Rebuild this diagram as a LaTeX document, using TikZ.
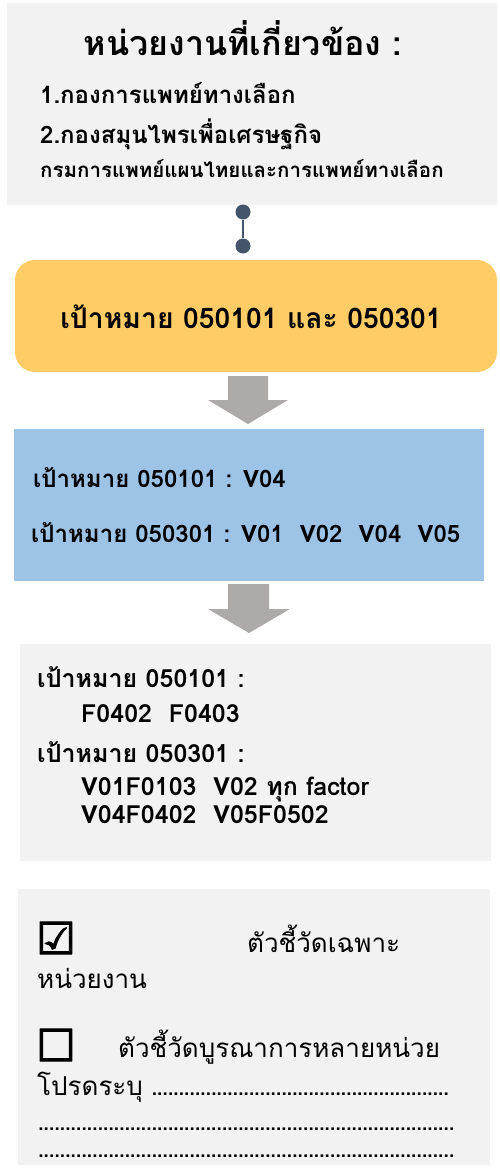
\documentclass[tikz,border=0pt]{standalone}
\usepackage{fontspec}
\setmainfont{DejaVu Sans}
\newfontfamily\thai[Script=Thai]{Loma}
\newfontfamily\sym[FakeBold=2.5]{DejaVu Sans}
\usetikzlibrary{calc}
\definecolor{boxgray}{HTML}{F2F2F2}
\definecolor{goldbox}{HTML}{FFCC66}
\definecolor{bluebox}{HTML}{9DC3E6}
\definecolor{arrowgray}{HTML}{AEAAAA}
\definecolor{slate}{HTML}{44546A}
\newcommand\dotrow[1]{\hbox to #1{\leaders\hbox to 5.4pt{\hss.\hss}\hfill}}
\tikzset{
  txt/.style={inner sep=0pt, anchor=base west, font=\thai\bfseries},
  ctxt/.style={inner sep=0pt, anchor=base, font=\thai\bfseries},
  rtxt/.style={inner sep=0pt, anchor=base west, font=\thai},
  dotend/.style={circle, fill=slate, inner sep=0pt, minimum size=15pt},
  blockarrow/.style={fill=arrowgray, draw=none}
}
\begin{document}
\begin{tikzpicture}[x=1pt,y=-1pt]
\useasboundingbox (0,0) rectangle (500,1168);
% box 1
\fill[boxgray] (7,3) rectangle (497,205);
\node[ctxt, font=\thai\bfseries\fontsize{34}{40}\selectfont] (title) at (243,55) {หน่วยงานที่เกี่ยวข้อง :};
\node[txt, font=\thai\bfseries\fontsize{24}{28}\selectfont] (l1) at (40,103) {1.กองการแพทย์ทางเลือก};
\node[txt, font=\thai\bfseries\fontsize{24}{28}\selectfont] (l2) at (40,143) {2.กองสมุนไพรเพื่อเศรษฐกิจ};
\node[txt, font=\thai\bfseries\fontsize{20.5}{24}\selectfont] (l3) at (40,177) {กรมการแพทย์แผนไทยและการแพทย์ทางเลือก};
% connector
\node[dotend] (d1) at (243,212) {};
\node[dotend] (d2) at (243,246) {};
\draw[slate, line width=2.5pt] (d1) -- (d2);
% yellow
\fill[goldbox, rounded corners=20pt] (15,260) rectangle (497,372);
\node[ctxt, font=\thai\bfseries\fontsize{28.3}{32}\selectfont] (goal) at (251,328) {เป้าหมาย 050101 และ 050301};
% arrow 1
\fill[blockarrow] (228,376) -- (268,376) -- (268,400) -- (288,400) -- (248,424) -- (208,400) -- (228,400) -- cycle;
% blue
\fill[bluebox] (14,429) rectangle (484,581);
\node[txt, font=\thai\bfseries\fontsize{24}{28}\selectfont] (b1) at (33,487) {เป้าหมาย 050101 : V04};
\node[txt, font=\thai\bfseries\fontsize{24}{28}\selectfont] (b2) at (31,542) {เป้าหมาย 050301 : V01\ \ V02\ \ V04\ \ V05};
% arrow 2
\fill[blockarrow] (228,584) -- (269,584) -- (269,609) -- (290,609) -- (249,633) -- (208,609) -- (228,609) -- cycle;
% gray 4
\fill[boxgray] (20,644) rectangle (491,861);
\node[txt, font=\thai\bfseries\fontsize{25}{28}\selectfont] (g1) at (37,687) {เป้าหมาย 050101 :};
\node[txt, font=\thai\bfseries\fontsize{25}{28}\selectfont] (g2) at (81,722) {F0402\ \ F0403};
\node[txt, font=\thai\bfseries\fontsize{25}{28}\selectfont] (g3) at (37,762) {เป้าหมาย 050301 :};
\node[txt, font=\thai\bfseries\fontsize{25}{28}\selectfont] (g4) at (81,795) {V01F0103\ \ V02 ทุก factor};
\node[txt, font=\thai\bfseries\fontsize{25}{28}\selectfont] (g5) at (81,823) {V04F0402\ \ V05F0502};
% box 5
\fill[boxgray] (18,889) rectangle (490,1165);
\node[txt, font=\sym\fontsize{44}{48}\selectfont] (cb1) at (36,954) {☑};
\node[rtxt, font=\thai\fontsize{26}{30}\selectfont] (c1) at (247,952) {ตัวชี้วัดเฉพาะ};
\node[rtxt, font=\thai\fontsize{26}{30}\selectfont] (c2) at (37,988) {หน่วยงาน};
\node[txt, font=\sym\fontsize{44}{48}\selectfont] (cb2) at (36,1061) {☐};
\node[rtxt, font=\thai\fontsize{26}{30}\selectfont] (c3) at (118,1057) {ตัวชี้วัดบูรณาการหลายหน่วย};
\node[rtxt, font=\thai\fontsize{26}{30}\selectfont] (c4) at (37,1095) {โปรดระบุ \dotrow{300pt}};
\node[rtxt, font=\thai\fontsize{26}{30}\selectfont] (c5) at (38,1130) {\dotrow{420pt}};
\node[rtxt, font=\thai\fontsize{26}{30}\selectfont] (c6) at (38,1157) {\dotrow{420pt}};
\end{tikzpicture}
\end{document}
